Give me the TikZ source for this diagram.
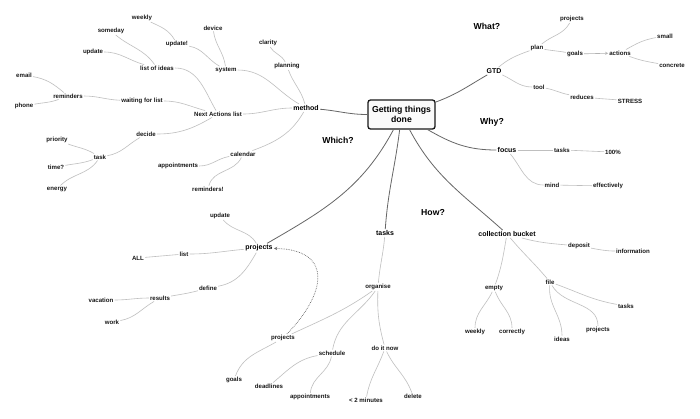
\documentclass[tikz,border=0pt]{standalone}
\usepackage{fontspec}
\setmainfont{Liberation Sans}
\usetikzlibrary{arrows.meta}
\begin{document}
\begin{tikzpicture}[x=1pt,y=1pt,
  lf/.style={font=\fontsize{6.1}{7}\selectfont\bfseries, inner sep=1pt, text=black!90},
  lone/.style={font=\fontsize{7}{8}\selectfont\bfseries, inner sep=1.2pt, text=black},
  hd/.style={font=\fontsize{8.7}{10}\selectfont\bfseries, inner sep=1pt, text=black},
  root/.style={draw=black!90, line width=1.3pt, rounded corners=2.5pt, fill=gray!4,
    minimum width=67pt, minimum height=29pt, align=center, inner sep=2pt,
    font=\fontsize{8.7}{10}\selectfont\bfseries},
  mainlnk/.style={draw=black!60, line width=0.8pt},
  lnk/.style={draw=black!25, line width=0.6pt},
  dotlnk/.style={draw=black!60, line width=0.7pt, densely dotted, -{Stealth[open,length=3.2pt,width=3.4pt]}},
  arrlnk/.style={draw=black!30, line width=0.6pt, -{Stealth[open,length=3pt,width=3.2pt]}}
]
\useasboundingbox (0,0) rectangle (700,-418);
\fill[white] (0,0) rectangle (700,-418);

% root
\node[root] (C) at (401.5,-114.5) {Getting things\\done};

% headings
\node[hd] (what) at (487,-26) {What?};
\node[hd] (why) at (492,-122) {Why?};
\node[hd] (which) at (338,-140) {Which?};
\node[hd] (how) at (433,-212) {How?};

% method subtree
\node[lone] (method) at (306,-108) {method};
\node[lf] (planning) at (287,-66) {planning};
\node[lf] (clarity) at (268,-43) {clarity};
\node[lf] (system) at (226,-70) {system};
\node[lf] (device) at (213,-28) {device};
\node[lf] (updx) at (177,-44) {update!};
\node[lf] (weekly) at (142,-18) {weekly};
\node[lf] (nal) at (218,-114) {Next Actions list};
\node[lf] (ideas) at (157,-68) {list of ideas};
\node[lf] (someday) at (111,-31) {someday};
\node[lf] (update) at (93,-52) {update};
\node[lf] (wfl) at (142,-101) {waiting for list};
\node[lf] (remind) at (68,-96) {reminders};
\node[lf] (email) at (24,-75) {email};
\node[lf] (phone) at (24,-106) {phone};
\node[lf] (decide) at (146,-134) {decide};
\node[lf] (task) at (100,-157) {task};
\node[lf] (priority) at (57,-140) {priority};
\node[lf] (time) at (56,-167) {time?};
\node[lf] (energy) at (57,-189) {energy};
\node[lf] (calendar) at (243,-154) {calendar};
\node[lf] (appts) at (178,-166) {appointments};
\node[lf] (remindx) at (208,-189) {reminders!};

% GTD subtree
\node[lone] (gtd) at (494,-71) {GTD};
\node[lf] (plan) at (537,-48) {plan};
\node[lf] (projtop) at (572,-19) {projects};
\node[lf] (goals) at (575,-54) {goals};
\node[lf] (actions) at (620,-53) {actions};
\node[lf] (small) at (665,-36) {small};
\node[lf] (concrete) at (672,-66) {concrete};
\node[lf] (tool) at (539,-87) {tool};
\node[lf] (reduces) at (582,-97) {reduces};
\node[lf] (stress) at (630,-101) {STRESS};

% focus subtree
\node[lone] (focus) at (507,-150) {focus};
\node[lf] (ftasks) at (562,-150) {tasks};
\node[lf] (hundred) at (613,-152) {100\%};
\node[lf] (mind) at (552,-185) {mind};
\node[lf] (effect) at (608,-186) {effectively};

% tasks subtree
\node[lone] (tasks) at (385,-233) {tasks};
\node[lf] (organise) at (378,-287) {organise};
\node[lf] (proj2) at (283,-338) {projects};
\node[lf] (goals2) at (234,-380) {goals};
\node[lf] (schedule) at (332,-353) {schedule};
\node[lf] (deadlines) at (269,-386) {deadlines};
\node[lf] (appts2) at (310,-397) {appointments};
\node[lf] (doit) at (385,-348) {do it now};
\node[lf] (two) at (366,-400) {< 2 minutes};
\node[lf] (delete) at (413,-396) {delete};

% projects subtree
\node[lone] (projects) at (259,-248) {projects};
\node[lf] (upd3) at (220,-216) {update};
\node[lf] (list) at (184,-254) {list};
\node[lf] (all) at (138,-258) {ALL};
\node[lf] (define) at (208,-288) {define};
\node[lf] (results) at (160,-298) {results};
\node[lf] (vacation) at (101,-300) {vacation};
\node[lf] (work) at (112,-322) {work};

% collection bucket subtree
\node[lone] (cb) at (507,-234) {collection bucket};
\node[lf] (deposit) at (579,-246) {deposit};
\node[lf] (info) at (633,-251) {information};
\node[lf] (empty) at (494,-288) {empty};
\node[lf] (weekly2) at (475,-332) {weekly};
\node[lf] (correctly) at (512,-332) {correctly};
\node[lf] (file) at (550,-282) {file};
\node[lf] (tasks3) at (626,-306) {tasks};
\node[lf] (proj3) at (598,-330) {projects};
\node[lf] (ideas3) at (562,-339) {ideas};

% main links
\draw[mainlnk] (C) to[out=180,in=-5] (method);
\draw[mainlnk] (C) to[out=20,in=210] (gtd);
\draw[mainlnk] (C) to[out=-30,in=180] (focus);
\draw[mainlnk] (C) to[out=-97,in=86] (tasks);
\draw[mainlnk] (C) to[out=-118,in=30] (projects);
\draw[mainlnk] (C) to[out=-62,in=138] (cb);

% method links
\draw[lnk] (method) to[out=105,in=-70] (planning);
\draw[lnk] (planning) to[out=115,in=-60] (clarity);
\draw[lnk] (method) to[out=150,in=0] (system);
\draw[lnk] (system) to[out=98,in=-82] (device);
\draw[lnk] (system) to[out=150,in=-10] (updx);
\draw[lnk] (updx) to[out=120,in=-25] (weekly);
\draw[lnk] (method) to[out=180,in=0] (nal);
\draw[lnk] (nal) to[out=120,in=0] (ideas);
\draw[lnk] (ideas) to[out=125,in=-40] (someday);
\draw[lnk] (ideas) to[out=165,in=0] (update);
\draw[lnk] (nal) to[out=165,in=0] (wfl);
\draw[lnk] (wfl) to[out=178,in=0] (remind);
\draw[lnk] (remind) to[out=140,in=-10] (email);
\draw[lnk] (remind) to[out=-160,in=10] (phone);
\draw[lnk] (nal) to[out=-150,in=0] (decide);
\draw[lnk] (decide) to[out=-150,in=10] (task);
\draw[lnk] (task) to[out=150,in=-20] (priority);
\draw[lnk] (task) to[out=-160,in=10] (time);
\draw[lnk] (task) to[out=-125,in=45] (energy);
\draw[lnk] (method) to[out=-120,in=20] (calendar);
\draw[lnk] (calendar) to[out=190,in=0] (appts);
\draw[lnk] (calendar) to[out=-115,in=75] (remindx);

% GTD links
\draw[lnk] (gtd) to[out=40,in=200] (plan);
\draw[lnk] (plan) to[out=40,in=-120] (projtop);
\draw[lnk] (plan) to[out=-10,in=170] (goals);
\draw[arrlnk] (goals) -- (actions);
\draw[lnk] (actions) to[out=30,in=190] (small);
\draw[lnk] (actions) to[out=-20,in=170] (concrete);
\draw[lnk] (gtd) to[out=-25,in=180] (tool);
\draw[lnk] (tool) to[out=-10,in=170] (reduces);
\draw[lnk] (reduces) to[out=-5,in=175] (stress);

% focus links
\draw[lnk] (focus) -- (ftasks);
\draw[lnk] (ftasks) to[out=-2,in=178] (hundred);
\draw[lnk] (focus) to[out=-50,in=180] (mind);
\draw[lnk] (mind) -- (effect);

% tasks links
\draw[lnk] (tasks) to[out=-95,in=85] (organise);
\draw[lnk] (organise) to[out=-145,in=25] (proj2);
\draw[lnk] (organise) to[out=-125,in=80] (schedule);
\draw[lnk] (organise) to[out=-92,in=105] (doit);
\draw[lnk] (doit) to[out=-110,in=80] (two);
\draw[lnk] (doit) to[out=-65,in=110] (delete);
\draw[lnk] (schedule) to[out=190,in=40] (deadlines);
\draw[lnk] (schedule) to[out=-100,in=85] (appts2);
\draw[lnk] (proj2) to[out=-150,in=70] (goals2);
\draw[dotlnk] (proj2) .. controls (325,-295) and (335,-250) .. (projects);

% projects links
\draw[lnk] (projects) to[out=120,in=-50] (upd3);
\draw[lnk] (projects) to[out=185,in=0] (list);
\draw[lnk] (list) to[out=185,in=5] (all);
\draw[lnk] (projects) to[out=-120,in=10] (define);
\draw[lnk] (define) to[out=195,in=10] (results);
\draw[lnk] (results) to[out=180,in=0] (vacation);
\draw[lnk] (results) to[out=-150,in=10] (work);

% collection bucket links
\draw[lnk] (cb) to[out=-15,in=175] (deposit);
\draw[lnk] (deposit) to[out=-10,in=180] (info);
\draw[lnk] (cb) to[out=-100,in=70] (empty);
\draw[lnk] (empty) to[out=-115,in=90] (weekly2);
\draw[lnk] (empty) to[out=-70,in=90] (correctly);
\draw[lnk] (cb) to[out=-50,in=130] (file);
\draw[lnk] (file) to[out=-20,in=170] (tasks3);
\draw[lnk] (file) to[out=-60,in=90] (proj3);
\draw[lnk] (file) to[out=-95,in=90] (ideas3);
\end{tikzpicture}
\end{document}
